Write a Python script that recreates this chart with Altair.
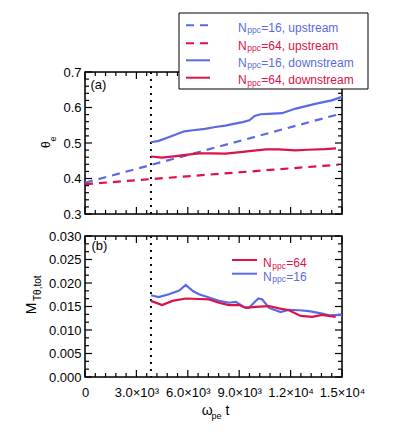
import json
import altair as alt
import pandas as pd

BLUE = "#5a6ae4"
RED = "#dc1249"
FONT = "Liberation Sans"

# ---------------- data ----------------
t_up16 = [0, 14800]
theta_up16 = [0.388, 0.581]
t_up64 = [0, 14800]
theta_up64 = [0.384, 0.439]

t_dn16 = [3850, 4300, 4800, 5300, 5800, 6300, 7000, 7600, 8200, 8600, 9200, 9600,
          9900, 10250, 10700, 11500, 12300, 12900, 13500, 14400, 15000]
theta_dn16 = [0.502, 0.506, 0.515, 0.524, 0.533, 0.536, 0.540, 0.545, 0.549, 0.553, 0.559, 0.564,
              0.576, 0.581, 0.582, 0.584, 0.597, 0.604, 0.611, 0.620, 0.630]

t_dn64 = [3850, 4500, 5300, 6000, 6650, 7400, 8200, 9200, 10000, 10550, 11300, 12300, 13000, 14000, 14650]
theta_dn64 = [0.462, 0.459, 0.463, 0.467, 0.471, 0.471, 0.470, 0.475, 0.479, 0.482, 0.482, 0.479, 0.481, 0.483, 0.485]

t_m16 = [3850, 4300, 4900, 5500, 5880, 6300, 6650, 7240, 7820, 8400, 8800, 9280, 9570, 9860,
         10120, 10350, 10740, 11420, 11900, 12500, 13070, 13850, 14240, 15000]
m16 = [0.0174, 0.0170, 0.0176, 0.0184, 0.0196, 0.0183, 0.0176, 0.0169, 0.0162, 0.0158, 0.0160, 0.0149, 0.0147, 0.0158,
       0.0167, 0.0165, 0.0147, 0.0138, 0.0143, 0.0142, 0.0140, 0.0135, 0.0131, 0.0132]

t_m64 = [3850, 4500, 5100, 5880, 6650, 7240, 7820, 8400, 9000, 9380, 9960, 10740, 11320, 11900,
         12590, 13270, 13850, 14630]
m64 = [0.0162, 0.0153, 0.0162, 0.0167, 0.0166, 0.0165, 0.0158, 0.0153, 0.0153, 0.0147, 0.0149, 0.0151, 0.0146, 0.0142,
       0.0130, 0.0128, 0.0132, 0.0128]

t_shock = [3850]

x_tick_values = [0, 3000, 6000, 9000, 12000, 15000]
x_tick_labels = ["0", "3.0×10³", "6.0×10³", "9.0×10³", "1.2×10⁴", "1.5×10⁴"]
theta_tick_values = [0.3, 0.4, 0.5, 0.6, 0.7]
m_tick_values = [0.0, 0.005, 0.010, 0.015, 0.020, 0.025, 0.030]

legend_top_labels = ["=16, upstream", "=64, upstream", "=16, downstream", "=64, downstream"]
legend_top_colors = [BLUE, RED, BLUE, RED]
legend_top_dashed = [True, True, False, False]
legend_bot_labels = ["=64", "=16"]
legend_bot_colors = [RED, BLUE]

# ---------------- layout ----------------
W = 257
H1 = 142
H2 = 141
MAJ = 7
MIN = 4

xscale = alt.Scale(domain=[0, 15000], nice=False, zero=False)
s_theta = alt.Scale(domain=[0.3, 0.7], nice=False, zero=False)
s_m = alt.Scale(domain=[0.0, 0.03], nice=False, zero=False)

x_minor = [v for v in range(0, 15001, 600) if v % 3000 != 0]
theta_minor = [round(0.3 + 0.02 * i, 4) for i in range(21) if i % 5 != 0]
m_minor = [0.005 * j / 3 for j in range(19) if j % 3 != 0]

label_expr = json.dumps(x_tick_labels, ensure_ascii=False).replace('"', "'") + "[round(datum.value/3000)]"

X_top = alt.X("t:Q", scale=xscale, axis=None)
X_bot = alt.X("t:Q", scale=xscale, axis=alt.Axis(values=x_tick_values, labelExpr=label_expr, ticks=False,
                                                  domain=False, grid=False, title=None, labelPadding=9,
                                                  labelFontSize=13, labelColor="black", labelFont=FONT,
                                                  labelFlush=False, labelOverlap=False))
Y_top = alt.Y("v:Q", scale=s_theta, axis=alt.Axis(values=theta_tick_values, format=".1f", ticks=False,
                                                   domain=False, grid=False, title=None, labelPadding=4,
                                                   labelFontSize=13, labelColor="black", labelFont=FONT))
Y_bot = alt.Y("v:Q", scale=s_m, axis=alt.Axis(values=m_tick_values, format=".3f", ticks=False,
                                               domain=False, grid=False, title=None, labelPadding=4,
                                               labelFontSize=13, labelColor="black", labelFont=FONT))


def line(t, v, color, X, Y, dash=None):
    df = pd.DataFrame({"t": t, "v": v})
    kw = dict(color=color, strokeWidth=2.2)
    if dash:
        kw["strokeDash"] = dash
    return alt.Chart(df).mark_line(**kw).encode(x=X, y=Y)


def ticks(X, Y, H, ymaj, ymin):
    out = []
    for vals, L in ((x_tick_values, MAJ), (x_minor, MIN)):
        df = pd.DataFrame({"t": vals})
        out.append(alt.Chart(df).mark_rule(color="black", strokeWidth=1.2).encode(
            x=X, y=alt.value(H), y2=alt.value(H - L)))
        out.append(alt.Chart(df).mark_rule(color="black", strokeWidth=1.2).encode(
            x=X, y=alt.value(0), y2=alt.value(L)))
    for vals, L in ((ymaj, MAJ), (ymin, MIN)):
        df = pd.DataFrame({"v": vals})
        out.append(alt.Chart(df).mark_rule(color="black", strokeWidth=1.2).encode(
            y=Y, x=alt.value(0), x2=alt.value(L)))
        out.append(alt.Chart(df).mark_rule(color="black", strokeWidth=1.2).encode(
            y=Y, x=alt.value(W), x2=alt.value(W - L)))
    return out


dummy = pd.DataFrame({"a": [0]})


def txt(s, x, y, size=13, color="black", angle=0, align="left", baseline="alphabetic"):
    kw = dict(text=s, fontSize=size, color=color, align=align, baseline=baseline, font=FONT)
    if angle:
        kw["angle"] = angle
    return alt.Chart(dummy).mark_text(**kw).encode(x=alt.value(x), y=alt.value(y))


def frame(H):
    return alt.Chart(dummy).mark_rect(fillOpacity=0, stroke="black", strokeWidth=1.5).encode(
        x=alt.value(0), x2=alt.value(W), y=alt.value(0), y2=alt.value(H))


def shock(X, H):
    return alt.Chart(pd.DataFrame({"t": t_shock})).mark_rule(
        color="black", strokeWidth=2, strokeDash=[2, 5]).encode(x=X, y=alt.value(0), y2=alt.value(H))


# ---------------- top panel ----------------
top_layers = [frame(H1)] + ticks(X_top, Y_top, H1, theta_tick_values, theta_minor) + [
    shock(X_top, H1),
    line(t_up16, theta_up16, BLUE, X_top, Y_top, dash=[8, 6]),
    line(t_up64, theta_up64, RED, X_top, Y_top, dash=[8, 6]),
    line(t_dn16, theta_dn16, BLUE, X_top, Y_top),
    line(t_dn64, theta_dn64, RED, X_top, Y_top),
    txt("(a)", 5.5, 16.5),
    alt.Chart(dummy).mark_rect(fill="white", stroke="black", strokeWidth=1).encode(
        x=alt.value(94), x2=alt.value(283), y=alt.value(-59), y2=alt.value(17)),
    # axis title theta_e
    txt("θ", -39.5, 76, size=12, angle=270, baseline="middle"),
    txt("e", -32, 69.5, size=9, angle=270, baseline="middle"),
]
row_y = [-46.7, -28.7, -11.7, 5.7]
for i, lab in enumerate(legend_top_labels):
    c = legend_top_colors[i]
    kw = dict(color=c, strokeWidth=2)
    if legend_top_dashed[i]:
        kw["strokeDash"] = [8, 6]
    top_layers.append(alt.Chart(dummy).mark_rule(**kw).encode(
        x=alt.value(101), x2=alt.value(125), y=alt.value(row_y[i])))
    top_layers.append(txt("N", 153, row_y[i] + 6.4, size=12, color=c))
    top_layers.append(txt("ppc", 162.3, row_y[i] + 8, size=8.5, color=c))
    top_layers.append(txt(lab, 176.3, row_y[i] + 6.4, size=12, color=c))

top = alt.layer(*top_layers).properties(width=W, height=H1)

# ---------------- bottom panel ----------------
bot_layers = [frame(H2)] + ticks(X_bot, Y_bot, H2, m_tick_values, m_minor) + [
    shock(X_bot, H2),
    line(t_m16, m16, BLUE, X_bot, Y_bot),
    line(t_m64, m64, RED, X_bot, Y_bot),
    txt("(b)", 6.5, 14),
    # axis title M_Ttheta,tot
    txt("M", -52.7, 78.3, size=14, angle=270, baseline="middle"),
    txt("Tθ,tot", -47, 65, size=10, angle=270, baseline="middle"),
    # x axis title
    txt("ω", 116.7, H2 + 38.3, size=14),
    txt("pe", 126.5, H2 + 41.5, size=9),
    txt("t", 140.5, H2 + 38.3, size=14),
]
brow_y = [24, 37.7]
for i, lab in enumerate(legend_bot_labels):
    c = legend_bot_colors[i]
    bot_layers.append(alt.Chart(dummy).mark_rule(color=c, strokeWidth=2).encode(
        x=alt.value(147), x2=alt.value(172), y=alt.value(brow_y[i])))
    bot_layers.append(txt("N", 178, brow_y[i] + 7, size=12, color=c))
    bot_layers.append(txt("ppc", 187.3, brow_y[i] + 8.6, size=8.5, color=c))
    bot_layers.append(txt(lab, 201.3, brow_y[i] + 7, size=12, color=c))

bottom = alt.layer(*bot_layers).properties(width=W, height=H2)

chart = alt.vconcat(top, bottom, spacing=22, bounds="flush").properties(
    padding={"left": 16, "top": 4, "right": 5, "bottom": 5}
).configure_view(stroke=None).configure(font=FONT)

chart.save("out.html", embed_options={"renderer": "svg", "actions": False})
